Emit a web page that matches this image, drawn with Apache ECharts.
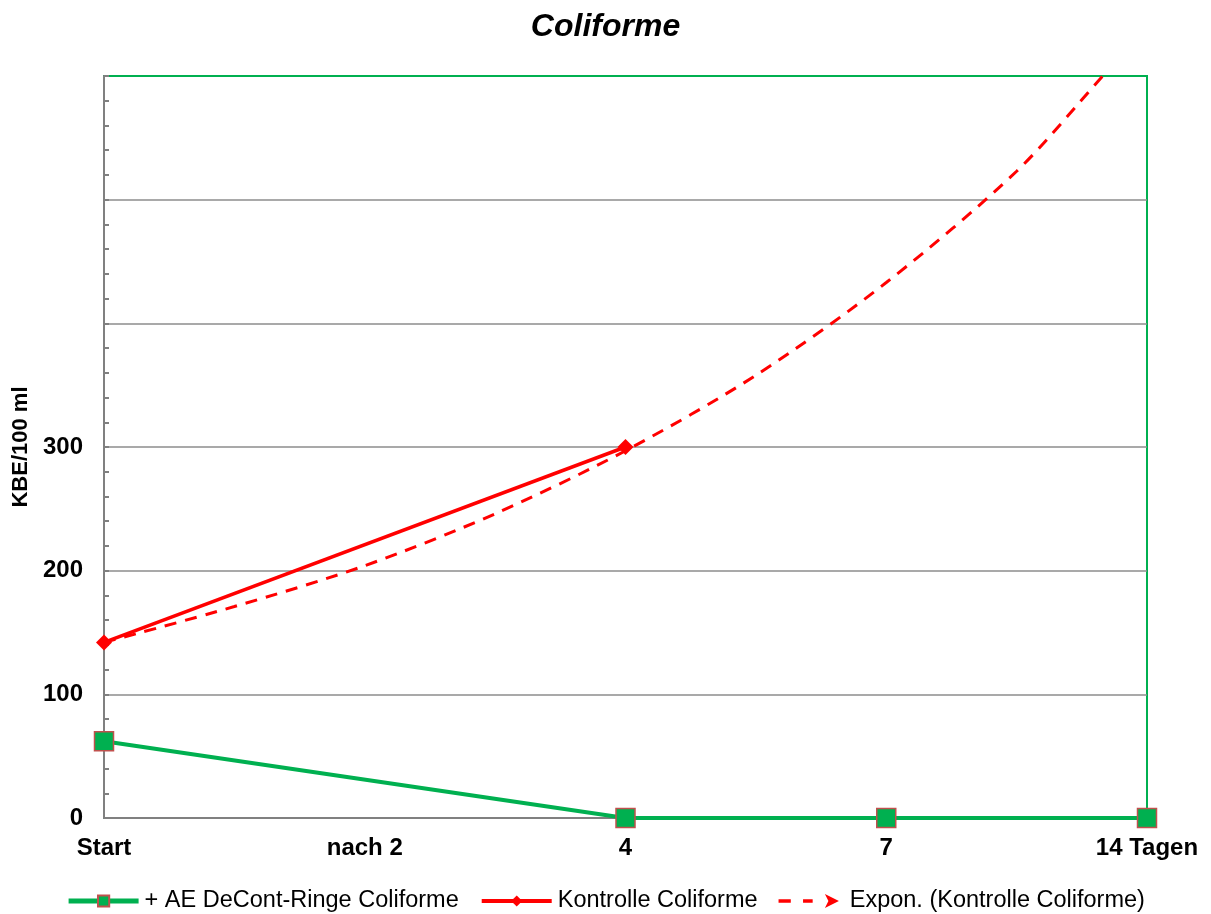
<!DOCTYPE html>
<html>
<head>
<meta charset="utf-8">
<script src="https://cdn.jsdelivr.net/npm/echarts@6/dist/echarts.min.js"></script>
<style>html,body{margin:0;padding:0;background:#fff}#c{width:1211px;height:914px}</style>
</head>
<body>
<div id="c"></div>
<script>
const categories = ['Start', 'nach 2', '4', '7', '14 Tagen'];
const deContValues = [[0, 62], [2, 0], [3, 0], [4, 0]];
const kontrolleValues = [[0, 142], [2, 300]];
const trendValues = [[0, 142], [0.5, 171], [1, 204], [1.5, 246], [2, 297], [2.5, 358], [3, 433], [3.5, 523], [3.83, 600], [4, 640]];
const yTickLabels = ['0', '100', '200', '300'];
const seriesNames = ['+ AE DeCont-Ringe Coliforme', 'Kontrolle Coliforme', 'Expon. (Kontrolle Coliforme)'];

const chart = echarts.init(document.getElementById('c'));
const font = 'Liberation Sans, Arial, sans-serif';
chart.setOption({
  animation: false,
  backgroundColor: '#fff',
  title: {
    text: 'Coliforme', left: 'center', top: 6,
    textStyle: { fontFamily: font, fontSize: 32, fontWeight: 'bold', fontStyle: 'italic', color: '#000' }
  },
  grid: { left: 104, right: 64, top: 76, bottom: 96, show: true, borderColor: '#00B050', borderWidth: 2, backgroundColor: 'transparent' },
  legend: {
    top: 884, left: 'center', itemGap: 21, itemWidth: 70, itemHeight: 14,
    textStyle: { fontFamily: font, fontSize: 23.5, color: '#000', padding: [0, 0, 0, 1] },
    data: [
      { name: seriesNames[0], lineStyle: { width: 5, color: '#00B050' } },
      { name: seriesNames[1], lineStyle: { width: 4, color: '#FF0000' } },
      { name: seriesNames[2], icon: 'path://M0,6h14v4H0z M28,6h11v4H28z M53,0 L69,8 L53,16 L57,8z', itemStyle: { color: '#FF0000' } }
    ]
  },
  xAxis: {
    type: 'value', min: 0, max: 4, interval: 1,
    axisLine: { show: true, onZero: false, lineStyle: { color: '#808080', width: 2 } },
    axisTick: { show: false },
    splitLine: { show: false },
    axisLabel: {
      margin: 18, fontFamily: font, fontSize: 24, fontWeight: 'bold', color: '#000',
      formatter: v => categories[Math.round(v)] || ''
    }
  },
  yAxis: {
    type: 'value', min: 0, max: 600, interval: 100,
    name: 'KBE/100 ml', nameLocation: 'middle', nameGap: 68, nameRotate: 90,
    nameTextStyle: { fontFamily: font, fontSize: 22, fontWeight: 'bold', color: '#000' },
    axisLine: { show: true, lineStyle: { color: '#808080', width: 2 } },
    axisTick: { show: true, inside: true, length: 5, lineStyle: { color: '#808080', width: 2 } },
    minorTick: { show: true, splitNumber: 5, length: 5, lineStyle: { color: '#808080', width: 2 } },
    splitLine: { show: true, showMaxLine: false, lineStyle: { color: '#8c8c8c', width: 1.5 } },
    axisLabel: {
      margin: 21, fontFamily: font, fontSize: 24, fontWeight: 'bold', color: '#000',
      formatter: v => { const i = Math.round(v / 100); return i < yTickLabels.length ? yTickLabels[i] : ''; }
    }
  },
  series: [
    {
      name: seriesNames[2], type: 'line', data: trendValues, smooth: 0.3, symbol: 'none', z: 3,
      lineStyle: { color: '#FF0000', width: 3, type: [12, 9] }, itemStyle: { color: '#FF0000' }
    },
    {
      name: seriesNames[1], type: 'line', data: kontrolleValues, symbol: 'diamond', symbolSize: 16, z: 4,
      lineStyle: { color: '#FF0000', width: 3.5 }, itemStyle: { color: '#FF0000' }
    },
    {
      name: seriesNames[0], type: 'line', data: deContValues, symbol: 'rect', symbolSize: 19, z: 5, clip: false,
      lineStyle: { color: '#00B050', width: 4 }, itemStyle: { color: '#00B050', borderColor: '#C0504D', borderWidth: 1.5 }
    }
  ]
});
</script>
</body>
</html>
